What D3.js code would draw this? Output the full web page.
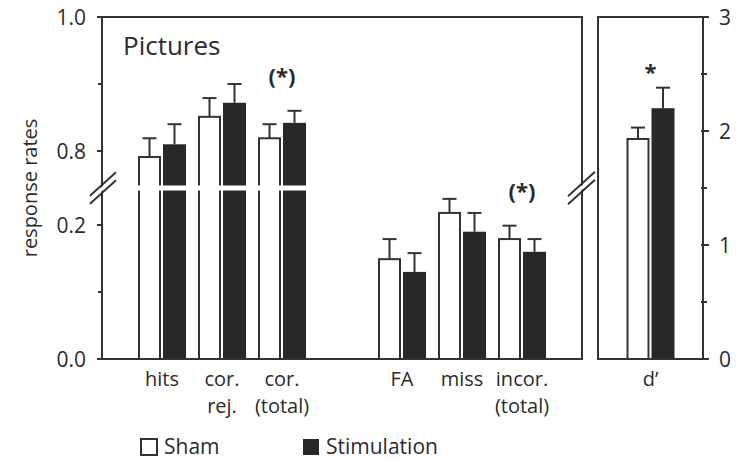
<!DOCTYPE html>
<html>
<head>
<meta charset="utf-8">
<script src="https://cdn.jsdelivr.net/npm/d3@7"></script>
<style>
  html, body { margin: 0; padding: 0; background: #fff; }
  svg { display: block; }
  text { font-family: "Open Sans", "Liberation Sans", sans-serif; fill: #2b2b2b; }
</style>
</head>
<body>
<svg id="chart" width="743" height="460"></svg>
<script>
// ---- data ----
const categories = ["hits", "cor. rej.", "cor. (total)", "", "FA", "miss", "incor. (total)"];
const categoryLines = [["hits"], ["cor.", "rej."], ["cor.", "(total)"], [], ["FA"], ["miss"], ["incor.", "(total)"]];
const shamValues = [0.791, 0.851, 0.819, null, 0.149, 0.218, 0.179];
const shamErrors = [0.028, 0.028, 0.021, null, 0.030, 0.021, 0.020];
const stimValues = [0.810, 0.872, 0.842, null, 0.130, 0.190, 0.160];
const stimErrors = [0.030, 0.028, 0.018, null, 0.028, 0.028, 0.019];
const sigLabels = ["", "", "(*)", "", "", "", "(*)"];
const dCategory = ["d’"];
const dSham = [1.93];
const dShamErr = [0.10];
const dStim = [2.20];
const dStimErr = [0.18];
const dSig = ["*"];
const leftUpperTicks = [0.8, 0.9, 1.0];
const leftLowerTicks = [0.0, 0.1, 0.2];
const leftTickLabels = {"1": "1.0", "0.8": "0.8", "0.2": "0.2", "0": "0.0"};
const rightTicks = [0, 0.5, 1, 1.5, 2, 2.5, 3];
const rightTickLabels = {"0": "0", "1": "1", "2": "2", "3": "3"};
const legendItems = ["Sham", "Stimulation"];
const titleText = "Pictures";
const yTitle = "response rates";

// ---- layout ----
const svg = d3.select("#chart");
const ink = "#333";
const L = {x0: 102, x1: 582, top: 17, bottom: 359};
const R = {x0: 598, x1: 703};
const breakY = 188;

const x = d3.scalePoint().domain(categories).range([L.x0, L.x1]).padding(1);
const yLow = d3.scaleLinear().domain([0, 0.2]).range([L.bottom, 225]);
const yHigh = d3.scaleLinear().domain([0.8, 1.0]).range([151, L.top]);
const yVal = v => v >= 0.5 ? yHigh(v) : yLow(v);
const xR = d3.scalePoint().domain(dCategory).range([R.x0, R.x1]).padding(0.5);
const yR = d3.scaleLinear().domain([0, 3]).range([L.bottom, L.top]);

const barW = 23, gapW = 1;

function drawBar(g, cx, v, err, filled, yf) {
  const top = yf(v);
  const left = filled ? cx + gapW : cx - gapW - barW;
  const et = yf(v + err);
  const mid = left + barW / 2;
  g.append("line").attr("x1", mid).attr("x2", mid).attr("y1", top).attr("y2", et)
    .attr("stroke", ink).attr("stroke-width", 2);
  g.append("line").attr("x1", mid - 7).attr("x2", mid + 7).attr("y1", et).attr("y2", et)
    .attr("stroke", ink).attr("stroke-width", 2);
  if (filled) {
    g.append("rect").attr("x", left).attr("y", top).attr("width", barW).attr("height", L.bottom - top)
      .attr("fill", "#282828");
  } else {
    g.append("rect").attr("x", left + 1).attr("y", top).attr("width", barW - 2).attr("height", L.bottom - top)
      .attr("fill", "#fff").attr("stroke", ink).attr("stroke-width", 2);
  }
}

const gBars = svg.append("g");
categories.forEach((c, i) => {
  if (shamValues[i] == null) return;
  const cx = x(c);
  drawBar(gBars, cx, shamValues[i], shamErrors[i], false, yVal);
  drawBar(gBars, cx, stimValues[i], stimErrors[i], true, yVal);
});
dCategory.forEach((c, i) => {
  const cx = xR(c);
  drawBar(gBars, cx, dSham[i], dShamErr[i], false, yR);
  drawBar(gBars, cx, dStim[i], dStimErr[i], true, yR);
});

// white break band across left panel
svg.append("rect").attr("x", L.x0 + 1).attr("y", breakY - 2.5).attr("width", L.x1 - L.x0 - 2).attr("height", 5)
  .attr("fill", "#fff");

// frames
const frame = svg.append("g").attr("stroke", ink).attr("stroke-width", 2).attr("fill", "none");
frame.append("line").attr("x1", L.x0).attr("x2", L.x0).attr("y1", L.top).attr("y2", L.bottom);
frame.append("line").attr("x1", L.x1).attr("x2", L.x1).attr("y1", L.top).attr("y2", L.bottom);
frame.append("line").attr("x1", L.x0 - 1).attr("x2", L.x1 + 1).attr("y1", L.top).attr("y2", L.top);
frame.append("line").attr("x1", L.x0 - 5).attr("x2", L.x1 + 1).attr("y1", L.bottom).attr("y2", L.bottom);
frame.append("line").attr("x1", R.x0).attr("x2", R.x0).attr("y1", L.top).attr("y2", L.bottom);
frame.append("line").attr("x1", R.x1).attr("x2", R.x1).attr("y1", L.top).attr("y2", L.bottom);
frame.append("line").attr("x1", R.x0 - 1).attr("x2", R.x1 + 6).attr("y1", L.top).attr("y2", L.top);
frame.append("line").attr("x1", R.x0 - 1).attr("x2", R.x1 + 6).attr("y1", L.bottom).attr("y2", L.bottom);

// left ticks
const tickFont = 21;
leftUpperTicks.concat(leftLowerTicks).forEach((t, k) => {
  const y = k < leftUpperTicks.length ? yHigh(t) : yLow(t);
  const major = leftTickLabels[String(t)] !== undefined;
  svg.append("line").attr("x1", L.x0 - (major ? 5 : 4)).attr("x2", L.x0).attr("y1", y).attr("y2", y)
    .attr("stroke", ink).attr("stroke-width", 2);
  if (major) {
    svg.append("text").attr("x", 86).attr("y", y).attr("dy", "0.36em").attr("text-anchor", "end")
      .attr("font-size", tickFont).text(leftTickLabels[String(t)]);
  }
});
// right ticks
rightTicks.forEach(t => {
  const y = yR(t);
  const major = rightTickLabels[String(t)] !== undefined;
  svg.append("line").attr("x1", R.x1 - 2).attr("x2", R.x1 + (major ? 6 : 4)).attr("y1", y).attr("y2", y)
    .attr("stroke", ink).attr("stroke-width", 2);
  if (major) {
    svg.append("text").attr("x", 719).attr("y", y).attr("dy", "0.36em").attr("text-anchor", "start")
      .attr("font-size", tickFont).text(rightTickLabels[String(t)]);
  }
});

// break marks
function breakMark(x0, x1) {
  [-4, 4].forEach(o => {
    svg.append("line").attr("x1", x0).attr("y1", breakY + o + (x1 - x0) * 0.45)
      .attr("x2", x1).attr("y2", breakY + o - (x1 - x0) * 0.45)
      .attr("stroke", ink).attr("stroke-width", 2);
  });
  svg.append("polygon")
    .attr("points", [[x0 + 2, breakY - 2 + (x1 - x0 - 4) * 0.45], [x1 - 2, breakY - 2 - (x1 - x0 - 4) * 0.45],
      [x1 - 2, breakY + 2 - (x1 - x0 - 4) * 0.45], [x0 + 2, breakY + 2 + (x1 - x0 - 4) * 0.45]].map(p => p.join(",")).join(" "))
    .attr("fill", "#fff");
}
breakMark(90, 116);
breakMark(568, 595);

// category labels
categories.forEach((c, i) => {
  categoryLines[i].forEach((ln, j) => {
    svg.append("text").attr("x", x(c)).attr("y", 386 + j * 27).attr("text-anchor", "middle")
      .attr("font-size", 20).text(ln);
  });
});
dCategory.forEach(c => {
  svg.append("text").attr("x", xR(c)).attr("y", 386).attr("text-anchor", "middle")
    .attr("font-size", 20).text(c);
});

// significance
categories.forEach((c, i) => {
  if (!sigLabels[i]) return;
  const top = Math.min(yVal(shamValues[i] + shamErrors[i]), yVal(stimValues[i] + stimErrors[i]));
  svg.append("text").attr("x", x(c)).attr("y", top - 27).attr("text-anchor", "middle")
    .attr("font-size", 22).attr("font-weight", "bold").text(sigLabels[i]);
});
dCategory.forEach((c, i) => {
  const top = Math.min(yR(dSham[i] + dShamErr[i]), yR(dStim[i] + dStimErr[i]));
  svg.append("text").attr("x", xR(c)).attr("y", top - 8).attr("text-anchor", "middle")
    .attr("font-size", 22).attr("font-weight", "bold").text(dSig[i]);
});

// title
svg.append("text").attr("x", 123).attr("y", 55).attr("font-size", 26).text(titleText);
// y title
svg.append("text").attr("transform", "translate(37,188) rotate(-90)").attr("text-anchor", "middle")
  .attr("font-size", 20).text(yTitle);

// legend
const lg = svg.append("g");
[[140, false], [302, true]].forEach((p, i) => {
  lg.append("rect").attr("x", p[0] + 1).attr("y", 439).attr("width", 16).attr("height", 16)
    .attr("fill", p[1] ? "#282828" : "#fff").attr("stroke", p[1] ? "none" : ink).attr("stroke-width", 2);
  lg.append("text").attr("x", p[0] + 24).attr("y", 454).attr("font-size", 21).text(legendItems[i]);
});
</script>
</body>
</html>
